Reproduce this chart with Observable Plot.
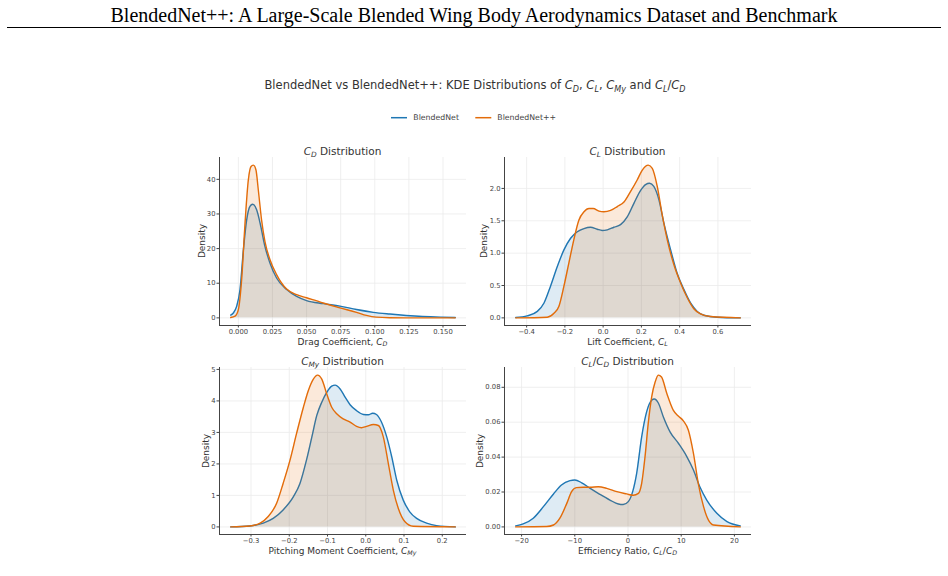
<!DOCTYPE html>
<html>
<head>
<meta charset="utf-8">
<script src="https://cdn.jsdelivr.net/npm/d3@7"></script>
<script src="https://cdn.jsdelivr.net/npm/@observablehq/plot@0.6"></script>
<style>
  body { margin: 0; background: #fff; }
  #page { position: relative; width: 948px; height: 576px; overflow: hidden;
          font-family: "DejaVu Sans", sans-serif; color: #333; }
  .abs { position: absolute; white-space: nowrap; line-height: 1; }
  .ctr { transform: translate(-50%, -50%); }
  .rot { transform: translate(-50%, -50%) rotate(-90deg); }
  sub { font-size: 70%; vertical-align: -0.3em; line-height: 0; }
  svg { position: absolute; overflow: visible; }
</style>
</head>
<body>
<div id="page"></div>
<script>
// ---- Series colours ----
const blue = "#1f77b4";
const orange = "#e36c0a";

// ---- Drag coefficient C_D ----
const cdNetX = [-0.0056, -0.0037, -0.0012, 0.0012, 0.0037, 0.0061, 0.0085, 0.0105, 0.0134, 0.0159, 0.0195, 0.0232, 0.028, 0.0354, 0.0427, 0.050, 0.0622, 0.0744, 0.0866, 0.0988, 0.111, 0.123, 0.135, 0.148, 0.159];
const cdNetY = [0.8, 1.4, 3.4, 8.2, 19.7, 28.3, 32.2, 32.8, 31.2, 27.4, 20.6, 15.8, 11.5, 8.2, 6.2, 5.0, 4.1, 3.4, 2.4, 1.6, 1.1, 0.7, 0.4, 0.2, 0.1];
const cdPlusX = [-0.0056, -0.0024, 0.0, 0.0024, 0.0049, 0.0073, 0.0093, 0.011, 0.0129, 0.0146, 0.017, 0.0195, 0.0232, 0.028, 0.0354, 0.0427, 0.050, 0.0622, 0.0744, 0.0866, 0.0939, 0.101, 0.111, 0.13, 0.159];
const cdPlusY = [0.1, 0.5, 2.4, 11, 27.4, 39.8, 43.7, 44.1, 42.7, 37, 28.3, 22, 16.8, 12.5, 8.3, 6.7, 5.8, 4.3, 2.9, 1.6, 0.7, 0.2, 0.05, 0.0, 0.0];
const cdTicksX = [0, 0.025, 0.05, 0.075, 0.1, 0.125, 0.15];
const cdTicksY = [0, 10, 20, 30, 40];

// ---- Lift coefficient C_L ----
const clNetX = [-0.457, -0.397, -0.344, -0.309, -0.275, -0.240, -0.205, -0.170, -0.135, -0.100, -0.066, -0.031, -0.005, 0.022, 0.056, 0.091, 0.126, 0.161, 0.196, 0.222, 0.243, 0.265, 0.292, 0.318, 0.353, 0.387, 0.422, 0.457, 0.492, 0.527, 0.596, 0.717];
const clNetY = [0.005, 0.03, 0.10, 0.23, 0.49, 0.79, 1.05, 1.23, 1.33, 1.38, 1.40, 1.37, 1.35, 1.36, 1.40, 1.44, 1.56, 1.77, 1.97, 2.06, 2.08, 2.03, 1.82, 1.46, 1.05, 0.69, 0.44, 0.23, 0.10, 0.04, 0.01, 0.0];
const clPlusX = [-0.457, -0.292, -0.257, -0.231, -0.205, -0.179, -0.153, -0.127, -0.100, -0.074, -0.052, -0.022, 0.004, 0.039, 0.074, 0.109, 0.143, 0.178, 0.204, 0.236, 0.257, 0.283, 0.309, 0.335, 0.370, 0.405, 0.440, 0.474, 0.509, 0.562, 0.717];
const clPlusY = [0.0, 0.01, 0.07, 0.18, 0.49, 0.85, 1.21, 1.51, 1.64, 1.69, 1.69, 1.65, 1.64, 1.66, 1.72, 1.79, 1.95, 2.13, 2.28, 2.36, 2.31, 2.03, 1.59, 1.21, 0.82, 0.54, 0.31, 0.14, 0.06, 0.02, 0.0];
const clTicksX = [-0.4, -0.2, 0, 0.2, 0.4, 0.6];
const clTicksY = [0, 0.5, 1, 1.5, 2];

// ---- Pitching moment coefficient C_My ----
const cmNetX = [-0.353, -0.303, -0.268, -0.242, -0.216, -0.189, -0.172, -0.155, -0.141, -0.128, -0.115, -0.102, -0.089, -0.080, -0.067, -0.054, -0.041, -0.024, -0.006, 0.007, 0.018, 0.028, 0.041, 0.055, 0.068, 0.081, 0.098, 0.115, 0.133, 0.159, 0.185, 0.234];
const cmNetY = [0, 0.03, 0.12, 0.27, 0.54, 0.96, 1.38, 2.12, 2.85, 3.54, 3.96, 4.27, 4.47, 4.5, 4.38, 4.12, 3.88, 3.69, 3.57, 3.56, 3.61, 3.57, 3.33, 2.85, 2.22, 1.48, 0.85, 0.48, 0.27, 0.12, 0.04, 0];
const cmPlusX = [-0.353, -0.303, -0.276, -0.255, -0.233, -0.216, -0.198, -0.181, -0.163, -0.150, -0.137, -0.126, -0.115, -0.102, -0.089, -0.076, -0.059, -0.041, -0.024, -0.011, 0.002, 0.020, 0.033, 0.046, 0.059, 0.072, 0.085, 0.102, 0.124, 0.234];
const cmPlusY = [0, 0.03, 0.12, 0.33, 0.75, 1.38, 2.12, 2.96, 3.8, 4.33, 4.69, 4.82, 4.69, 4.22, 3.8, 3.59, 3.43, 3.33, 3.19, 3.15, 3.19, 3.25, 3.22, 2.85, 2.01, 1.17, 0.59, 0.17, 0.02, 0];
const cmTicksX = [-0.3, -0.2, -0.1, 0, 0.1, 0.2];
const cmTicksY = [0, 1, 2, 3, 4, 5];

// ---- Efficiency ratio C_L/C_D ----
const ldNetX = [-21.1, -19.7, -17.8, -15.9, -14.0, -12.5, -10.9, -10.0, -8.7, -7.1, -5.3, -3.4, -1.8, -0.9, 0.06, 0.88, 1.63, 2.57, 3.5, 4.45, 4.95, 5.7, 6.65, 7.9, 9.5, 11.0, 12.3, 13.5, 14.8, 16.7, 18.6, 21.1];
const ldNetY = [0.0006, 0.0017, 0.005, 0.0116, 0.0189, 0.024, 0.0265, 0.0269, 0.0253, 0.0221, 0.0187, 0.0154, 0.0131, 0.0128, 0.0145, 0.0202, 0.0307, 0.0516, 0.0659, 0.0726, 0.0733, 0.071, 0.063, 0.0545, 0.0478, 0.0406, 0.0326, 0.023, 0.0154, 0.0078, 0.003, 0.0006];
const ldPlusX = [-21.1, -15.3, -14.0, -12.8, -11.5, -10.6, -9.7, -8.4, -7.1, -5.6, -4.0, -2.1, -0.25, 1.0, 1.95, 2.57, 3.2, 3.8, 4.45, 5.1, 5.7, 6.3, 7.3, 8.5, 9.5, 10.4, 11.35, 12.3, 13.2, 14.2, 15.1, 16.05, 21.1];
const ldPlusY = [0, 0.0002, 0.0011, 0.005, 0.0135, 0.0202, 0.0225, 0.0227, 0.0227, 0.023, 0.0221, 0.0202, 0.0189, 0.0181, 0.0192, 0.025, 0.0402, 0.0592, 0.0745, 0.083, 0.087, 0.0859, 0.0764, 0.0669, 0.0634, 0.0608, 0.0554, 0.0421, 0.025, 0.0116, 0.004, 0.0011, 0];
const ldTicksX = [-20, -10, 0, 10, 20];
const ldTicksY = [0, 0.02, 0.04, 0.06, 0.08];

// ---- Legend entries ----
const seriesNames = ["BlendedNet", "BlendedNet++"];

const page = document.getElementById("page");

function addText(html, x, y, cls, style) {
  const d = document.createElement("div");
  d.className = "abs " + cls;
  d.innerHTML = html;
  d.style.left = x + "px";
  d.style.top = y + "px";
  Object.assign(d.style, style || {});
  page.appendChild(d);
  return d;
}

// Padded extent, 5% on each side
function padded(values) {
  const [a, b] = d3.extent(values);
  const m = (b - a) * 0.05;
  return [a - m, b + m];
}

const grid = "#ebebeb";
const spine = "#444";

function panel(frame, netX, netY, plusX, plusY, ticksX, fmtX, ticksY, fmtY) {
  const net = netX.map((x, i) => ({x, y: netY[i]}));
  const plus = plusX.map((x, i) => ({x, y: plusY[i]}));
  const xDomain = padded([...netX, ...plusX]);
  const yDomain = padded([0, ...netY, ...plusY]);
  const mL = 40, mT = 10, mR = 10, mB = 22;
  const curve = "monotone-x";
  const svg = Plot.plot({
    width: frame.w + mL + mR,
    height: frame.h + mT + mB,
    marginLeft: mL, marginTop: mT, marginRight: mR, marginBottom: mB,
    x: {domain: xDomain},
    y: {domain: yDomain},
    style: {fontFamily: "DejaVu Sans", fontSize: "6.8px", color: "#444", background: "transparent"},
    marks: [
      Plot.ruleX(ticksX, {stroke: grid, strokeWidth: 0.8}),
      Plot.ruleY(ticksY, {stroke: grid, strokeWidth: 0.8}),
      Plot.areaY(net, {x: "x", y: "y", fill: blue, fillOpacity: 0.15, curve}),
      Plot.lineY(net, {x: "x", y: "y", stroke: blue, strokeWidth: 1.4, curve}),
      Plot.areaY(plus, {x: "x", y: "y", fill: orange, fillOpacity: 0.15, curve}),
      Plot.lineY(plus, {x: "x", y: "y", stroke: orange, strokeWidth: 1.4, curve}),
      Plot.ruleX([xDomain[0]], {stroke: spine, strokeWidth: 1}),
      Plot.ruleY([yDomain[0]], {stroke: spine, strokeWidth: 1}),
      Plot.axisX(ticksX, {tickFormat: d3.format(fmtX), tickSize: 2.5, tickPadding: 1.5, label: null, stroke: spine}),
      Plot.axisY(ticksY, {tickFormat: d3.format(fmtY), tickSize: 2.5, tickPadding: 1.5, label: null, stroke: spine})
    ]
  });
  svg.style.left = (frame.x - mL) + "px";
  svg.style.top = (frame.y - mT) + "px";
  page.appendChild(svg);
}

// Page heading and rule
addText("BlendedNet++: A Large-Scale Blended Wing Body Aerodynamics Dataset and Benchmark", 474, 14.5, "ctr",
  {fontFamily: "'Liberation Serif', serif", fontSize: "20px", color: "#000"});
const hr = document.createElement("div");
Object.assign(hr.style, {position: "absolute", left: "7px", top: "26.5px", width: "934px", height: "1.2px", background: "#000"});
page.appendChild(hr);

// Figure title
addText("BlendedNet vs BlendedNet++: KDE Distributions of <i>C</i><sub><i>D</i></sub>, <i>C</i><sub><i>L</i></sub>, <i>C</i><sub><i>My</i></sub> and <i>C</i><sub><i>L</i></sub>/<i>C</i><sub><i>D</i></sub>",
  475, 86, "ctr", {fontSize: "11.5px"});

// Legend: coloured line samples followed by series names
const legendY = 117.7;
const legendSvg = d3.create("svg")
  .attr("width", 948).attr("height", 576)
  .style("left", "0px").style("top", "0px").style("pointer-events", "none");
[[391, blue], [475.3, orange]].forEach(([x, c]) => {
  legendSvg.append("line")
    .attr("x1", x).attr("x2", x + 16).attr("y1", legendY).attr("y2", legendY)
    .attr("stroke", c).attr("stroke-width", 1.5);
});
page.appendChild(legendSvg.node());
addText(seriesNames[0], 413.3, legendY, "", {fontSize: "7.8px", transform: "translateY(-50%)", color: "#444"});
addText(seriesNames[1], 497.3, legendY, "", {fontSize: "7.8px", transform: "translateY(-50%)", color: "#444"});

// Panels
const frames = [
  {x: 219, y: 157, w: 247, h: 168},
  {x: 504, y: 157, w: 247, h: 168},
  {x: 219, y: 367, w: 247, h: 167},
  {x: 504, y: 367, w: 247, h: 167}
];
panel(frames[0], cdNetX, cdNetY, cdPlusX, cdPlusY, cdTicksX, ".3f", cdTicksY, "d");
panel(frames[1], clNetX, clNetY, clPlusX, clPlusY, clTicksX, ".1f", clTicksY, ".1f");
panel(frames[2], cmNetX, cmNetY, cmPlusX, cmPlusY, cmTicksX, ".1f", cmTicksY, "d");
panel(frames[3], ldNetX, ldNetY, ldPlusX, ldPlusY, ldTicksX, "d", ldTicksY, ".2f");

// Panel titles and axis labels
const titles = [
  "<i>C</i><sub><i>D</i></sub> Distribution",
  "<i>C</i><sub><i>L</i></sub> Distribution",
  "<i>C</i><sub><i>My</i></sub> Distribution",
  "<i>C</i><sub><i>L</i></sub>/<i>C</i><sub><i>D</i></sub> Distribution"
];
const xLabels = [
  "Drag Coefficient, <i>C</i><sub><i>D</i></sub>",
  "Lift Coefficient, <i>C</i><sub><i>L</i></sub>",
  "Pitching Moment Coefficient, <i>C</i><sub><i>My</i></sub>",
  "Efficiency Ratio, <i>C</i><sub><i>L</i></sub>/<i>C</i><sub><i>D</i></sub>"
];
const densityX = [202, 484, 205.5, 480];
frames.forEach((f, i) => {
  const cx = f.x + f.w / 2;
  addText(titles[i], cx, f.y - 6.5, "ctr", {fontSize: "10.5px"});
  addText(xLabels[i], cx, f.y + f.h + 16.5, "ctr", {fontSize: "9px"});
  addText("Density", densityX[i], f.y + f.h / 2, "rot", {fontSize: "9px"});
});
</script>
</body>
</html>
